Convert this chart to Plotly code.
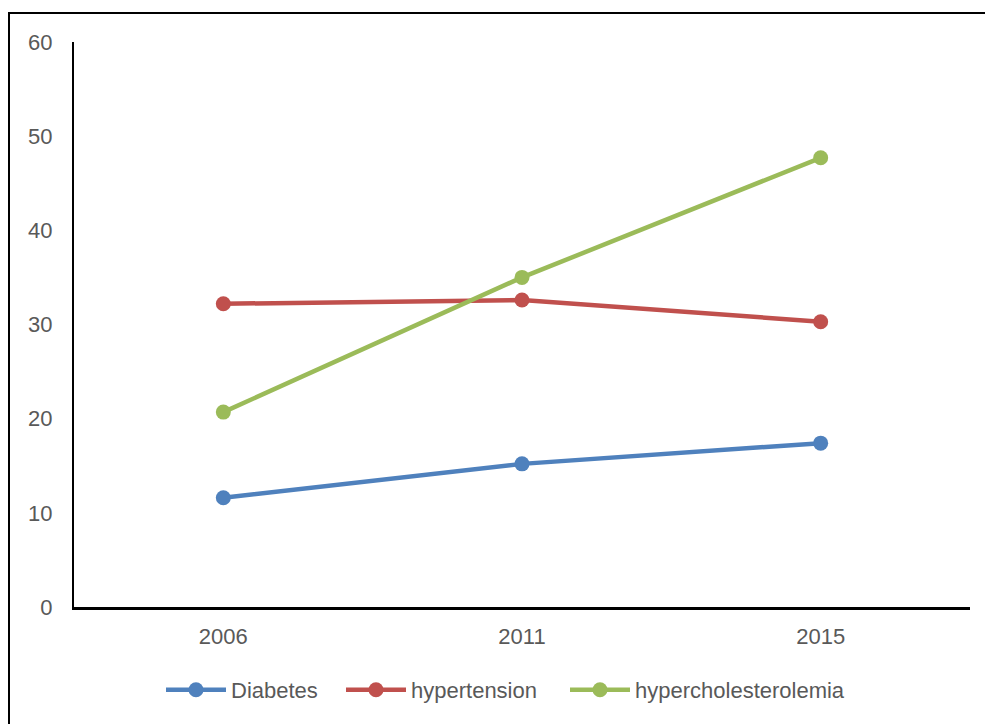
import plotly.graph_objects as go

# Survey years and prevalence (%) of each condition
years = ["2006", "2011", "2015"]
diabetes = [11.6, 15.2, 17.4]
hypertension = [32.2, 32.6, 30.3]
hypercholesterolemia = [20.7, 35.0, 47.7]

y_ticks = [0, 10, 20, 30, 40, 50, 60]

series = [
    ("Diabetes", diabetes, "#4F81BD", "legend"),
    ("hypertension", hypertension, "#C0504D", "legend2"),
    ("hypercholesterolemia", hypercholesterolemia, "#9BBB59", "legend3"),
]
legend_left_px = [170, 350, 574]

W, H = 985, 724
L, R, T, B = 74, 15, 42, 117
pw, ph = W - L - R, H - T - B

fig = go.Figure()
for name, vals, color, lg in series:
    fig.add_trace(go.Scatter(
        x=years, y=vals, name=name, mode="lines+markers",
        legend=lg,
        line=dict(color=color, width=4.5),
        marker=dict(color=color, size=15),
    ))

font = dict(family="Liberation Sans, Arial, sans-serif", size=22, color="#595959")

# outer frame of the chart area (extends past right and bottom edges)
fig.add_shape(
    type="rect", xref="paper", yref="paper",
    x0=(9 - L) / pw, x1=(W + 10 - L) / pw,
    y0=(H - B - (H + 10)) / ph, y1=(H - B - 13) / ph,
    line=dict(color="black", width=2), fillcolor="rgba(0,0,0,0)", layer="below",
)

legend_common = dict(
    orientation="h", xanchor="left",
    y=(H - B - 690) / ph, yanchor="middle",
    font=font, itemwidth=60, bgcolor="rgba(0,0,0,0)",
)
legend_layout = {}
for (name, _, _, lg), px in zip(series, legend_left_px):
    legend_layout[lg] = dict(legend_common, x=(px - 9 - L) / pw)

fig.update_layout(
    width=W, height=H,
    margin=dict(l=L, r=R, t=T, b=B, pad=0),
    paper_bgcolor="white", plot_bgcolor="white",
    font=font,
    showlegend=True,
    xaxis=dict(
        type="category", range=[-0.5, 2.5],
        showgrid=False, zeroline=False,
        showline=True, linecolor="black", linewidth=3,
        ticks="outside", ticklen=8, tickcolor="rgba(0,0,0,0)",
        tickfont=font,
    ),
    yaxis=dict(
        range=[0, 60], tickvals=y_ticks,
        showgrid=False, zeroline=False,
        showline=True, linecolor="black", linewidth=2,
        ticks="outside", ticklen=15, tickcolor="rgba(0,0,0,0)",
        tickfont=font,
    ),
    **legend_layout,
)

fig.write_html("out.html")
